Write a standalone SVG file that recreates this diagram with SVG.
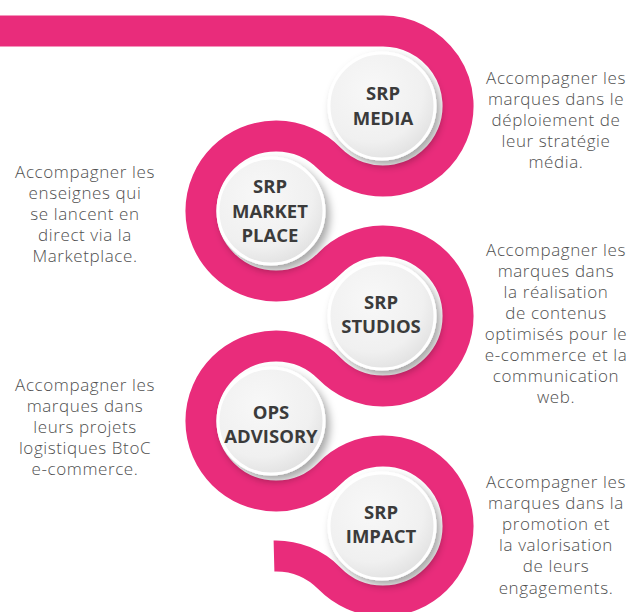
<svg xmlns="http://www.w3.org/2000/svg" width="632" height="612" viewBox="0 0 632 612">
<defs>
<radialGradient id="g" cx="40%" cy="35%" r="70%"><stop offset="0" stop-color="#f8f8f8"/><stop offset="0.7" stop-color="#f0f0f0"/><stop offset="1" stop-color="#e0e0e0"/></radialGradient>
<filter id="sh" x="-40%" y="-40%" width="180%" height="180%"><feDropShadow dx="4" dy="5" stdDeviation="4" flood-color="#000" flood-opacity="0.35"/></filter>
</defs>
<style>
.rib{fill:none;stroke:#E92C7B;stroke-width:31;stroke-linecap:butt}
.btn{fill:url(#g);stroke:#fff;stroke-width:3;filter:url(#sh)}
.lbl{font-family:"Open Sans","Liberation Sans",sans-serif;font-weight:700;font-size:18.5px;fill:#3b3b3b;text-anchor:middle}
.desc{font-family:"Open Sans","Liberation Sans",sans-serif;font-weight:300;font-size:17px;letter-spacing:0.6px;fill:#505050;text-anchor:middle}
</style>
<rect width="632" height="612" fill="#fff"/>
<g id="connectors">
<path class="rib" d="M 0 31 L 383 31 A 75 75 0 1 1 329.5 158.5 A 75 75 0 1 0 329.5 263.5 A 75 75 0 1 1 329.5 368.5 A 75 75 0 1 0 329.5 473.5 A 75 75 0 1 1 329.5 578.5 A 75 75 0 0 0 274 556"/>
</g>
<g id="srp-media">
<circle class="btn" cx="382" cy="106" r="53"/>
<text class="lbl" x="383" y="99.5">SRP</text>
<text class="lbl" x="383" y="124.5">MEDIA</text>
<text class="desc"><tspan x="556" y="84">Accompagner les</tspan><tspan x="556" y="105">marques dans le</tspan><tspan x="556" y="126">déploiement de</tspan><tspan x="556" y="147">leur stratégie</tspan><tspan x="556" y="168">média.</tspan></text>
</g>
<g id="srp-marketplace">
<circle class="btn" cx="271" cy="211" r="53"/>
<text class="lbl" x="270" y="193">SRP</text>
<text class="lbl" x="270" y="217.5">MARKET</text>
<text class="lbl" x="270" y="242">PLACE</text>
<text class="desc"><tspan x="85" y="178">Accompagner les</tspan><tspan x="85" y="199">enseignes qui</tspan><tspan x="85" y="220">se lancent en</tspan><tspan x="85" y="241">direct via la</tspan><tspan x="85" y="262">Marketplace.</tspan></text>
</g>
<g id="srp-studios">
<circle class="btn" cx="382" cy="316" r="53"/>
<text class="lbl" x="381" y="309">SRP</text>
<text class="lbl" x="381" y="333">STUDIOS</text>
<text class="desc"><tspan x="556" y="256">Accompagner les</tspan><tspan x="556" y="277">marques dans</tspan><tspan x="556" y="298">la réalisation</tspan><tspan x="556" y="319">de contenus</tspan><tspan x="556" y="340">optimisés pour le</tspan><tspan x="556" y="361">e-commerce et la</tspan><tspan x="556" y="382">communication</tspan><tspan x="556" y="403">web.</tspan></text>
</g>
<g id="ops-advisory">
<circle class="btn" cx="271" cy="421" r="53"/>
<text class="lbl" x="271" y="419">OPS</text>
<text class="lbl" x="271" y="443">ADVISORY</text>
<text class="desc"><tspan x="85" y="391">Accompagner les</tspan><tspan x="85" y="412">marques dans</tspan><tspan x="85" y="433">leurs projets</tspan><tspan x="85" y="454">logistiques BtoC</tspan><tspan x="85" y="475">e-commerce.</tspan></text>
</g>
<g id="srp-impact">
<circle class="btn" cx="382" cy="526" r="53"/>
<text class="lbl" x="381" y="519">SRP</text>
<text class="lbl" x="381" y="543">IMPACT</text>
<text class="desc"><tspan x="556" y="488">Accompagner les</tspan><tspan x="556" y="509">marques dans la</tspan><tspan x="556" y="530">promotion et</tspan><tspan x="556" y="551">la valorisation</tspan><tspan x="556" y="572">de leurs</tspan><tspan x="556" y="594">engagements.</tspan></text>
</g>
</svg>
